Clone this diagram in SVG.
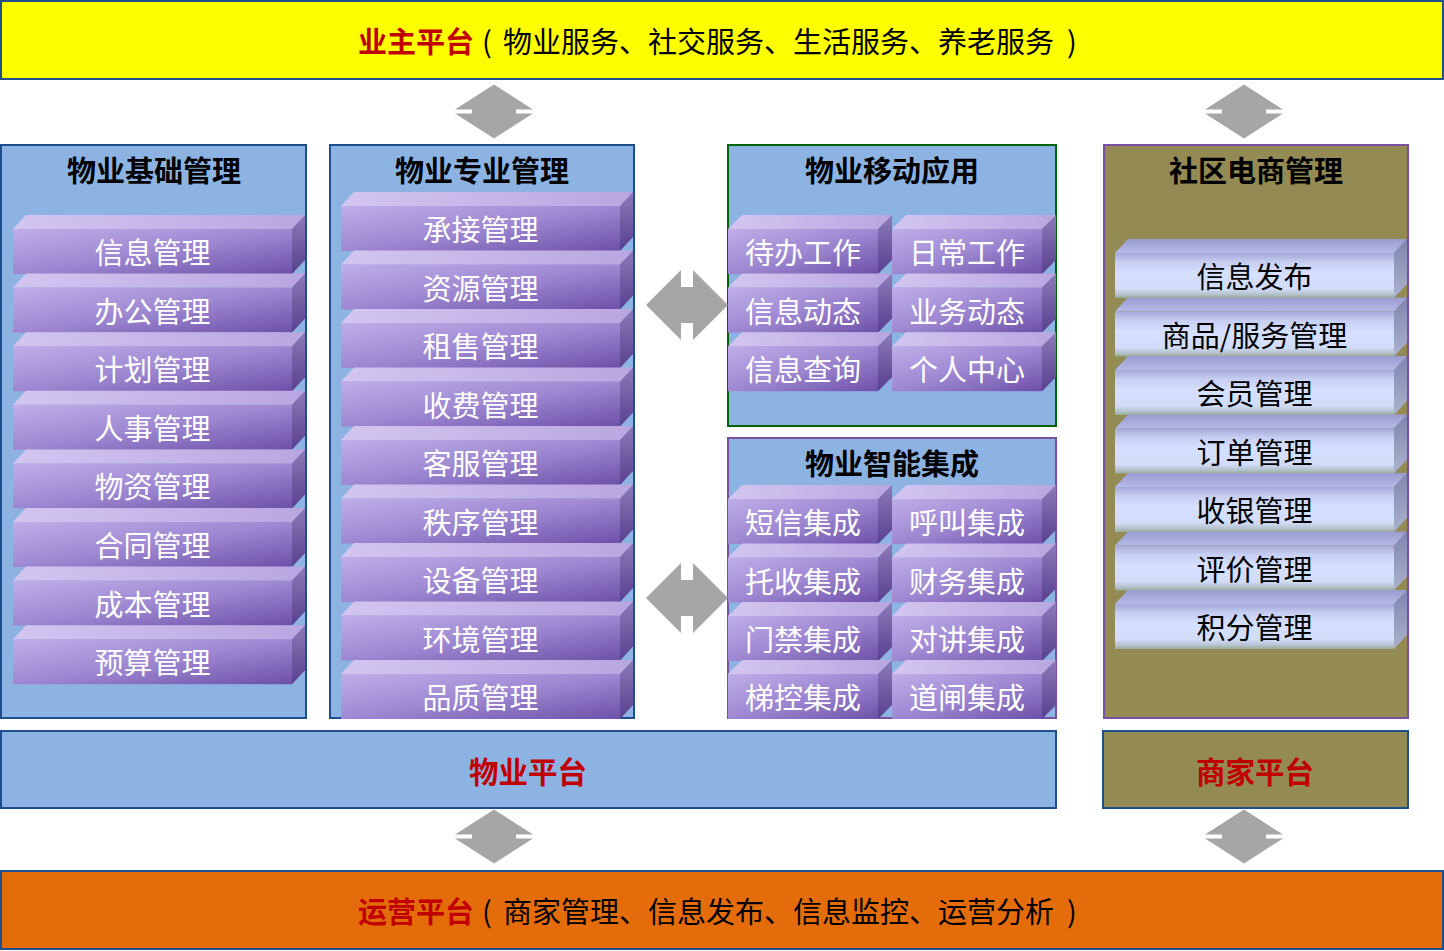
<svg xmlns="http://www.w3.org/2000/svg" xmlns:xlink="http://www.w3.org/1999/xlink" width="1444" height="951" viewBox="0 0 1444 951">
<style>
.t{font-family:"Noto Sans CJK SC","Noto Sans",sans-serif;}
.title{font-size:29px;font-weight:bold;fill:#000;text-anchor:middle;dominant-baseline:central;}
.wt{font-size:29px;fill:#fff;text-anchor:middle;dominant-baseline:central;}
.bt{font-size:29px;fill:#000;text-anchor:middle;dominant-baseline:central;}
.band{font-size:29px;fill:#000;text-anchor:start;dominant-baseline:central;}
.red{fill:#C00000;font-weight:bold;}
.pl{fill:#C00000;font-size:29.5px;font-weight:bold;text-anchor:middle;dominant-baseline:central;}
.bl{fill:#8DB3E2;stroke:#1F4E8C;stroke-width:2;}
.ol{fill:#948A54;stroke:#7B4FA0;stroke-width:2;}
.arr{fill:#A6A6A6;}
</style>
<defs>
<linearGradient id="pf" x1="0" y1="0" x2="1" y2="1">
<stop offset="0" stop-color="#BFAEE8"/>
<stop offset="0.5" stop-color="#9E88D2"/>
<stop offset="1" stop-color="#6D50A8"/>
</linearGradient>
<linearGradient id="pt" x1="0" y1="0" x2="1" y2="0">
<stop offset="0" stop-color="#D2C6F0"/>
<stop offset="1" stop-color="#B9A6E0"/>
</linearGradient>
<linearGradient id="ps" x1="0" y1="0" x2="0" y2="1">
<stop offset="0" stop-color="#8C7AB8"/>
<stop offset="1" stop-color="#58408F"/>
</linearGradient>
<linearGradient id="bf" x1="0" y1="0" x2="0" y2="1">
<stop offset="0" stop-color="#A4A8D8"/>
<stop offset="0.2" stop-color="#C6CEF2"/>
<stop offset="0.45" stop-color="#D6E0FF"/>
<stop offset="0.8" stop-color="#D0DCF8"/>
<stop offset="0.92" stop-color="#B4C2CC"/>
<stop offset="1" stop-color="#98AC94"/>
</linearGradient>
<linearGradient id="bt" x1="0" y1="0" x2="0" y2="1">
<stop offset="0" stop-color="#9A9CD0"/>
<stop offset="1" stop-color="#B4BAE6"/>
</linearGradient>
<linearGradient id="bs" x1="0" y1="0" x2="0" y2="1">
<stop offset="0" stop-color="#7E86B0"/>
<stop offset="1" stop-color="#AAB2CC"/>
</linearGradient>
<g id="wideP">
<polygon points="0,14 13,0 292,0 279,14" fill="url(#pt)"/>
<rect x="0" y="14" width="279" height="45" fill="url(#pf)"/>
<polygon points="279,14 292,0 292,45 279,59" fill="url(#ps)"/>
</g>
<g id="narrowP">
<polygon points="0,14 14,0 164,0 150,14" fill="url(#pt)"/>
<rect x="0" y="14" width="150" height="45" fill="url(#pf)"/>
<polygon points="150,14 164,0 164,45 150,59" fill="url(#ps)"/>
</g>
<g id="wideB">
<polygon points="0,14 13,0 292,0 279,14" fill="url(#bt)"/>
<rect x="0" y="14" width="279" height="45" fill="url(#bf)"/>
<polygon points="279,14 292,0 292,45 279,59" fill="url(#bs)"/>
</g>
<path id="varr" d="M0,-27 L39,-2 L22,-2 L22,2 L39,2 L0,27 L-39,2 L-22,2 L-22,-2 L-39,-2 Z"/>
<path id="harr" d="M-41,0 L-6,-35 L-6,-18 L6,-18 L6,-35 L41,0 L6,35 L6,18 L-6,18 L-6,35 Z"/>
</defs>
<rect width="1444" height="951" fill="#fff"/>

<g id="owner-platform">
<rect x="1" y="1" width="1442" height="78" fill="#FFFF00" stroke="#1F4E8C" stroke-width="2"/>
<text class="t band" x="358" y="39.5"><tspan class="red">业主平台</tspan><tspan x="482">(</tspan><tspan x="503">物业服务、社交服务、生活服务、养老服务</tspan><tspan x="1067">)</tspan></text>
</g>

<g id="ops-platform">
<rect x="1" y="871" width="1442" height="78" fill="#E46C0A" stroke="#1F4E8C" stroke-width="2"/>
<text class="t band" x="358" y="909.5"><tspan class="red">运营平台</tspan><tspan x="482">(</tspan><tspan x="503">商家管理、信息发布、信息监控、运营分析</tspan><tspan x="1067">)</tspan></text>
</g>

<g id="property-platform">
<rect x="1" y="731" width="1055" height="77" class="bl"/>
<text class="t pl" x="528" y="770">物业平台</text>
</g>

<g id="merchant-platform">
<rect x="1103" y="731" width="305" height="77" fill="#948A54" stroke="#1F4E8C" stroke-width="2"/>
<text class="t pl" x="1255" y="770">商家平台</text>
</g>

<g id="basic-mgmt">
<rect x="1" y="145" width="305" height="573" class="bl"/>
<text class="t title" x="154" y="169">物业基础管理</text>
<g id="b1"><use href="#wideP" x="13" y="215"/><text class="t wt" x="152.5" y="251">信息管理</text></g>
<g id="b2"><use href="#wideP" x="13" y="273.6"/><text class="t wt" x="152.5" y="309.6">办公管理</text></g>
<g id="b3"><use href="#wideP" x="13" y="332.2"/><text class="t wt" x="152.5" y="368.2">计划管理</text></g>
<g id="b4"><use href="#wideP" x="13" y="390.8"/><text class="t wt" x="152.5" y="426.8">人事管理</text></g>
<g id="b5"><use href="#wideP" x="13" y="449.4"/><text class="t wt" x="152.5" y="485.4">物资管理</text></g>
<g id="b6"><use href="#wideP" x="13" y="508"/><text class="t wt" x="152.5" y="544">合同管理</text></g>
<g id="b7"><use href="#wideP" x="13" y="566.6"/><text class="t wt" x="152.5" y="602.6">成本管理</text></g>
<g id="b8"><use href="#wideP" x="13" y="625.2"/><text class="t wt" x="152.5" y="661.2">预算管理</text></g>
</g>

<g id="pro-mgmt">
<rect x="330" y="145" width="304" height="573" class="bl"/>
<text class="t title" x="482" y="169">物业专业管理</text>
<g id="m1"><use href="#wideP" x="341" y="192"/><text class="t wt" x="480.5" y="228">承接管理</text></g>
<g id="m2"><use href="#wideP" x="341" y="250.5"/><text class="t wt" x="480.5" y="286.5">资源管理</text></g>
<g id="m3"><use href="#wideP" x="341" y="309"/><text class="t wt" x="480.5" y="345">租售管理</text></g>
<g id="m4"><use href="#wideP" x="341" y="367.5"/><text class="t wt" x="480.5" y="403.5">收费管理</text></g>
<g id="m5"><use href="#wideP" x="341" y="426"/><text class="t wt" x="480.5" y="462">客服管理</text></g>
<g id="m6"><use href="#wideP" x="341" y="484.5"/><text class="t wt" x="480.5" y="520.5">秩序管理</text></g>
<g id="m7"><use href="#wideP" x="341" y="543"/><text class="t wt" x="480.5" y="579">设备管理</text></g>
<g id="m8"><use href="#wideP" x="341" y="601.5"/><text class="t wt" x="480.5" y="637.5">环境管理</text></g>
<g id="m9"><use href="#wideP" x="341" y="660"/><text class="t wt" x="480.5" y="696">品质管理</text></g>
</g>

<g id="mobile-app">
<rect x="728" y="145" width="328" height="281" fill="#8DB3E2" stroke="#006400" stroke-width="2"/>
<text class="t title" x="892" y="169">物业移动应用</text>
<g id="a1"><use href="#narrowP" x="728" y="215"/><text class="t wt" x="803" y="251">待办工作</text></g>
<g id="a2"><use href="#narrowP" x="892" y="215"/><text class="t wt" x="967" y="251">日常工作</text></g>
<g id="a3"><use href="#narrowP" x="728" y="273.6"/><text class="t wt" x="803" y="309.6">信息动态</text></g>
<g id="a4"><use href="#narrowP" x="892" y="273.6"/><text class="t wt" x="967" y="309.6">业务动态</text></g>
<g id="a5"><use href="#narrowP" x="728" y="332.2"/><text class="t wt" x="803" y="368.2">信息查询</text></g>
<g id="a6"><use href="#narrowP" x="892" y="332.2"/><text class="t wt" x="967" y="368.2">个人中心</text></g>
</g>

<g id="smart-integration">
<rect x="728" y="438" width="328" height="280" fill="#8DB3E2" stroke="#7B4FA0" stroke-width="2"/>
<text class="t title" x="892" y="462">物业智能集成</text>
<g id="s1"><use href="#narrowP" x="728" y="485"/><text class="t wt" x="803" y="521">短信集成</text></g>
<g id="s2"><use href="#narrowP" x="892" y="485"/><text class="t wt" x="967" y="521">呼叫集成</text></g>
<g id="s3"><use href="#narrowP" x="728" y="543.5"/><text class="t wt" x="803" y="579.5">托收集成</text></g>
<g id="s4"><use href="#narrowP" x="892" y="543.5"/><text class="t wt" x="967" y="579.5">财务集成</text></g>
<g id="s5"><use href="#narrowP" x="728" y="602"/><text class="t wt" x="803" y="638">门禁集成</text></g>
<g id="s6"><use href="#narrowP" x="892" y="602"/><text class="t wt" x="967" y="638">对讲集成</text></g>
<g id="s7"><use href="#narrowP" x="728" y="660"/><text class="t wt" x="803" y="696">梯控集成</text></g>
<g id="s8"><use href="#narrowP" x="892" y="660"/><text class="t wt" x="967" y="696">道闸集成</text></g>
</g>

<g id="ecommerce-mgmt">
<rect x="1104" y="145" width="304" height="573" class="ol"/>
<text class="t title" x="1256" y="169">社区电商管理</text>
<g id="e1"><use href="#wideB" x="1115" y="239"/><text class="t bt" x="1254.5" y="275">信息发布</text></g>
<g id="e2"><use href="#wideB" x="1115" y="297.5"/><text class="t bt" x="1254.5" y="333.5">商品/服务管理</text></g>
<g id="e3"><use href="#wideB" x="1115" y="356"/><text class="t bt" x="1254.5" y="392">会员管理</text></g>
<g id="e4"><use href="#wideB" x="1115" y="414.5"/><text class="t bt" x="1254.5" y="450.5">订单管理</text></g>
<g id="e5"><use href="#wideB" x="1115" y="473"/><text class="t bt" x="1254.5" y="509">收银管理</text></g>
<g id="e6"><use href="#wideB" x="1115" y="531.5"/><text class="t bt" x="1254.5" y="567.5">评价管理</text></g>
<g id="e7"><use href="#wideB" x="1115" y="590"/><text class="t bt" x="1254.5" y="626">积分管理</text></g>
</g>

<g id="connectors" class="arr">
<use href="#varr" x="494" y="111.5"/>
<use href="#varr" x="1244" y="111.5"/>
<use href="#varr" x="494" y="836.5"/>
<use href="#varr" x="1244" y="836.5"/>
<use href="#harr" x="687" y="305"/>
<use href="#harr" x="687" y="598"/>
</g>
</svg>
